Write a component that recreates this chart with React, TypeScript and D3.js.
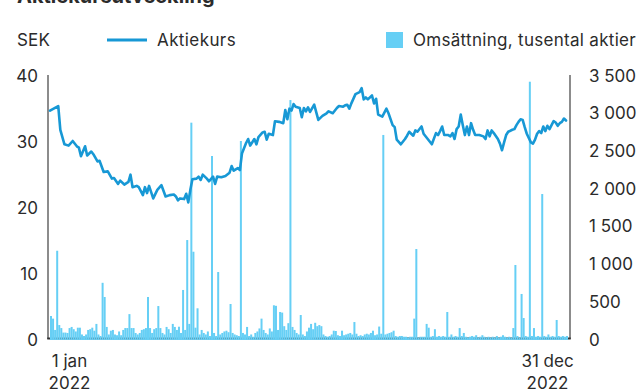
import React from "react";
import * as d3 from "d3";

const volume: number[] = [
  305, 270, 120, 1170, 185, 145, 85, 85, 80, 145,
  160, 130, 100, 150, 150, 60, 40, 60, 120, 130,
  150, 110, 200, 60, 40, 745, 557, 160, 60, 110,
  120, 60, 50, 100, 50, 120, 145, 145, 330, 145,
  145, 80, 60, 80, 120, 130, 145, 557, 145, 80,
  130, 145, 437, 145, 80, 60, 160, 130, 80, 200,
  160, 120, 163, 80, 650, 120, 1312, 200, 2868, 1157,
  150, 407, 60, 120, 80, 60, 100, 40, 2426, 80,
  40, 888, 60, 80, 100, 110, 90, 464, 80, 60,
  50, 40, 2625, 80, 60, 160, 40, 60, 30, 80,
  100, 140, 270, 120, 80, 60, 140, 100, 447, 440,
  120, 358, 350, 170, 120, 210, 3168, 160, 120, 80,
  60, 318, 60, 40, 100, 150, 200, 130, 215, 170,
  185, 170, 60, 40, 30, 40, 60, 110, 106, 50,
  40, 110, 50, 60, 70, 80, 60, 225, 70, 40,
  50, 40, 60, 70, 60, 80, 110, 50, 60, 165,
  70, 2705, 60, 70, 80, 90, 110, 40, 30, 40,
  40, 30, 30, 20, 30, 30, 270, 1193, 20, 30,
  30, 30, 200, 150, 30, 40, 130, 30, 40, 30,
  40, 30, 358, 30, 60, 30, 40, 30, 145, 40,
  80, 30, 20, 30, 40, 30, 50, 20, 30, 50,
  30, 20, 30, 20, 30, 20, 40, 20, 30, 50,
  30, 20, 30, 20, 145, 981, 40, 20, 597, 278,
  40, 30, 3411, 40, 145, 30, 40, 30, 1922, 40,
  30, 60, 30, 40, 30, 252, 40, 30, 40, 30,
  40,
];

const priceDays: number[] = [
  0, 4, 5, 7, 9, 11, 13, 14, 15, 17, 18, 20, 21, 23, 24, 26, 28, 30, 31, 33,
  34, 36, 38, 39, 40, 42, 43, 45, 46, 47, 48, 50, 52, 54, 56, 58, 60, 61, 62, 63,
  65, 66, 67, 68, 69, 71, 72, 73, 74, 76, 77, 79, 80, 81, 83, 85, 87, 88, 89, 91,
  92, 93, 95, 96, 97, 99, 100, 101, 103, 104, 105, 106, 108, 109, 111, 113, 114, 115, 116, 117,
  118, 119, 121, 122, 123, 124, 125, 126, 128, 130, 132, 134, 135, 137, 139, 140, 142, 143, 144, 145,
  146, 148, 150, 151, 152, 153, 154, 156, 157, 158, 159, 161, 163, 164, 166, 167, 168, 170, 172, 173,
  174, 176, 177, 178, 180, 181, 183, 185, 187, 188, 189, 190, 191, 193, 194, 195, 196, 197, 198, 199,
  200, 201, 202, 203, 204, 205, 206, 208, 210, 211, 212, 213, 214, 215, 217, 218, 219, 220, 221, 222,
  224, 225, 226, 227, 228, 229, 230, 231, 233, 234, 235, 236, 237, 238, 239, 240, 241, 242, 244, 245,
  246, 247, 248, 249, 250,
];

const priceValues: number[] = [
  34.6, 35.3, 31.7, 29.5, 29.3, 30.0, 29.2, 29.0, 27.7, 29.2, 27.8, 28.4, 28.0, 26.9, 27.0, 25.3, 25.4, 24.3, 24.4, 23.5,
  24.0, 23.4, 23.8, 24.9, 23.0, 23.2, 23.0, 21.8, 23.0, 22.1, 23.2, 21.3, 22.6, 23.3, 21.6, 21.8, 21.9, 21.6, 21.0, 21.3,
  21.2, 22.0, 20.7, 22.6, 24.2, 24.3, 24.6, 24.1, 24.9, 24.3, 23.9, 24.6, 23.5, 24.6, 24.5, 24.7, 25.2, 26.2, 25.5, 25.9,
  25.6, 28.1, 29.7, 30.3, 29.3, 30.3, 29.5, 30.6, 31.3, 31.4, 30.2, 31.1, 30.9, 33.0, 32.9, 32.7, 34.7, 33.3, 34.9, 34.6,
  35.6, 35.2, 35.0, 33.6, 35.0, 34.5, 35.1, 34.4, 35.5, 33.2, 33.8, 34.2, 34.5, 34.2, 35.0, 35.3, 35.2, 35.4, 35.5, 34.9,
  35.7, 37.1, 37.4, 38.0, 36.3, 36.6, 36.3, 36.9, 35.7, 36.4, 34.0, 33.7, 34.9, 34.2, 32.4, 32.1, 30.2, 29.5, 30.3, 30.8,
  31.4, 30.8, 31.6, 31.4, 32.2, 31.1, 30.3, 29.5, 31.2, 30.9, 31.5, 32.2, 30.9, 30.9, 30.7, 31.2, 30.3, 31.8, 32.2, 34.0,
  32.4, 30.9, 32.2, 30.9, 32.7, 31.7, 30.9, 30.9, 30.7, 30.3, 31.6, 30.7, 31.6, 31.2, 30.3, 29.6, 28.6, 29.8, 30.9, 31.4,
  31.7, 31.8, 32.4, 32.9, 33.3, 33.2, 32.1, 31.1, 29.8, 29.6, 30.2, 31.1, 31.5, 31.2, 32.2, 31.5, 32.3, 31.8, 33.0, 32.8,
  32.3, 32.7, 32.9, 33.4, 33.1,
];

const leftTicks: number[] = [0, 10, 20, 30, 40];
const rightTicks: number[] = [0, 500, 1000, 1500, 2000, 2500, 3000, 3500];
const rightTickLabels: string[] = ["0", "500", "1 000", "1 500", "2 000", "2 500", "3 000", "3 500"];
const xTickLabels: string[][] = [["1 jan", "2022"], ["31 dec", "2022"]];

const LINE_COLOR = "#1798d5";
const BAR_COLOR = "#66cff5";
const TEXT_COLOR = "#2b2b2b";
const FONT = "Inter, Roboto, 'Noto Sans', sans-serif";
const FS = 17;

export default function App() {
  const x = d3.scaleLinear().domain([0, volume.length - 1]).range([50, 566]);
  const yL = d3.scaleLinear().domain([0, 40]).range([339, 75]);
  const yR = d3.scaleLinear().domain([0, 3500]).range([339, 75]);

  const line = d3
    .line<number>()
    .x((_, i) => x(priceDays[i]))
    .y((d) => yL(d));

  const barW = 2;

  return (
    <svg
      width={640}
      height={389}
      style={{ position: "fixed", left: 0, top: 0, background: "#fff" }}
      fontFamily={FONT}
    >
      <rect x={0} y={0} width={640} height={389} fill="#fff" />
      {/* title (cut off at top) */}
      <text x={17} y={3} fontSize={20} fontWeight={700} fill={TEXT_COLOR}>
        Aktiekursutveckling
      </text>

      {/* legend */}
      <text x={17} y={46} fontSize={FS} letterSpacing={0.2} fill={TEXT_COLOR}>SEK</text>
      <line x1={107} x2={147} y1={40} y2={40} stroke={LINE_COLOR} strokeWidth={3} />
      <text x={157} y={46} fontSize={FS} letterSpacing={0.4} fill={TEXT_COLOR}>Aktiekurs</text>
      <rect x={386} y={32} width={17} height={16} fill={BAR_COLOR} />
      <text x={413} y={46} fontSize={FS} letterSpacing={0.3} fill={TEXT_COLOR}>Omsättning, tusental aktier</text>

      {/* axes lines */}
      <line x1={48} x2={48} y1={yL(40)} y2={yL(0)} stroke="#666" strokeWidth={1.5} />
      <line x1={570} x2={570} y1={yR(3500)} y2={yR(0)} stroke="#666" strokeWidth={1.5} />
      <line x1={47.25} x2={570.75} y1={yL(0) - 0.5} y2={yL(0) - 0.5} stroke="#333" strokeWidth={2} />

      {/* left ticks */}
      {leftTicks.map((t) => (
        <text key={"l" + t} x={38} y={yL(t) + 6.5} fontSize={FS} textAnchor="end" fill={TEXT_COLOR}>
          {t}
        </text>
      ))}
      {/* right ticks */}
      {rightTicks.map((t, i) => (
        <text key={"r" + t} x={589} y={yR(t) + 6.5} fontSize={FS} textAnchor="start" fill={TEXT_COLOR}>
          {rightTickLabels[i]}
        </text>
      ))}

      {/* bars */}
      {volume.map((v, i) => (
        <rect
          key={"b" + i}
          x={x(i)}
          y={yR(v)}
          width={barW}
          height={yR(0) - yR(v) + 1}
          fill={BAR_COLOR}
        />
      ))}

      {/* price line */}
      <path
        d={line(priceValues) || ""}
        fill="none"
        stroke={LINE_COLOR}
        strokeWidth={2.6}
        strokeLinejoin="round"
        strokeLinecap="round"
      />

      {/* x tick labels */}
      {[0, volume.length - 1].map((d, i) => {
        const cx = x(d) + (i === 0 ? 19.5 : -18.5);
        return (
          <text key={"x" + i} x={cx} y={367} fontSize={FS} textAnchor="middle" fill={TEXT_COLOR}>
            <tspan x={cx} dy={0}>{xTickLabels[i][0]}</tspan>
            <tspan x={cx} dy={22}>{xTickLabels[i][1]}</tspan>
          </text>
        );
      })}
    </svg>
  );
}
